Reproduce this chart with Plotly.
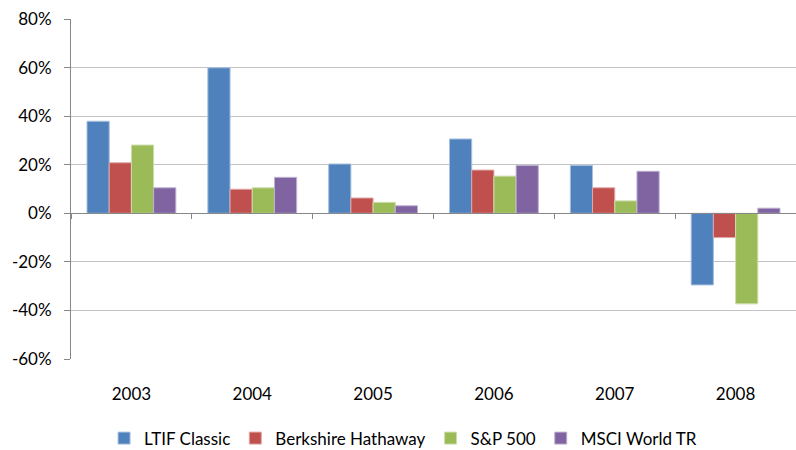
import plotly.graph_objects as go

# Annual returns, 2003-2008
years = ["2003", "2004", "2005", "2006", "2007", "2008"]
ltif_classic = [0.379, 0.599, 0.203, 0.306, 0.197, -0.295]
berkshire = [0.208, 0.099, 0.063, 0.178, 0.105, -0.100]
sp500 = [0.281, 0.105, 0.045, 0.153, 0.051, -0.373]
msci_world = [0.105, 0.148, 0.031, 0.197, 0.173, 0.021]

series_names = ["LTIF Classic", "Berkshire Hathaway", "S&P 500", "MSCI World TR"]
series_values = [ltif_classic, berkshire, sp500, msci_world]
fill_colors = ["#4F81BD", "#C0504D", "#9BBB59", "#8064A2"]
edge_colors = ["#A7C0DE", "#DFA8A6", "#CDDDAC", "#BFB1D0"]

y_tick_values = [-0.6, -0.4, -0.2, 0.0, 0.2, 0.4, 0.6, 0.8]
y_tick_labels = ["-60%", "-40%", "-20%", "0%", "20%", "40%", "60%", "80%"]

y_min, y_max = -0.6, 0.8
font_family = "Lato, 'Open Sans', sans-serif"
axis_grey = "#878787"
grid_grey = "#C3C3C3"

fig = go.Figure()
for name, vals, fc, ec in zip(series_names, series_values, fill_colors, edge_colors):
    fig.add_trace(go.Bar(
        x=years, y=vals, name=name,
        marker=dict(color=fc, line=dict(color=ec, width=1)),
    ))

# Horizontal category axis drawn through zero, with boundary tick marks
fig.add_trace(go.Scatter(x=[None], y=[None], xaxis="x2", showlegend=False, hoverinfo="skip"))

fig.update_layout(
    width=796, height=450, autosize=False,
    margin=dict(l=71, r=0, t=19, b=91, autoexpand=False),
    paper_bgcolor="white", plot_bgcolor="white",
    font=dict(family=font_family, color="#000000"),
    barmode="group", bargap=0.265, bargroupgap=0,
    showlegend=True,
    legend=dict(
        orientation="h", x=0.458, xanchor="center", y=-0.234, yanchor="middle",
        font=dict(size=17, family=font_family), itemwidth=30,
        traceorder="normal",
    ),
    xaxis=dict(
        type="category", showline=False, showgrid=False, zeroline=False,
        ticks="", tickfont=dict(size=17), ticklabelstandoff=23, automargin=False,
    ),
    xaxis2=dict(
        overlaying="x", anchor="free", position=(0 - y_min) / (y_max - y_min),
        range=[-0.5, len(years) - 0.5],
        tickvals=[i - 0.5 for i in range(len(years) + 1)],
        ticks="outside", ticklen=5, tickcolor=axis_grey, tickwidth=1,
        showticklabels=False, showline=True, linecolor=axis_grey, linewidth=1,
        showgrid=False, zeroline=False, automargin=False,
    ),
    yaxis=dict(
        range=[y_min, y_max], tickvals=y_tick_values, ticktext=y_tick_labels,
        showline=True, linecolor=axis_grey, linewidth=1,
        ticks="outside", ticklen=6, tickcolor=axis_grey,
        showgrid=True, gridcolor=grid_grey, gridwidth=1.3,
        zeroline=False, tickfont=dict(size=17), ticklabelstandoff=9,
        automargin=False,
    ),
)

fig.write_html("out.html")
